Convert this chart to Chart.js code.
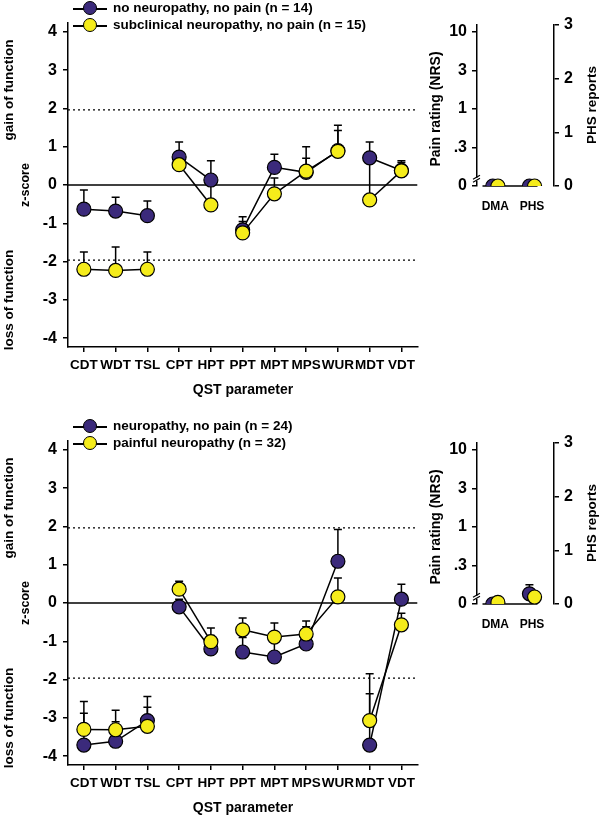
<!DOCTYPE html>
<html>
<head>
<meta charset="utf-8">
<script src="https://cdn.jsdelivr.net/npm/chart.js@4"></script>
<style>
body{margin:0;background:#fff;width:600px;height:816px;position:relative;overflow:hidden;font-family:"Liberation Sans",Arial,sans-serif;color:#000}
canvas{position:absolute}
.t{position:absolute;white-space:nowrap;font-weight:bold;line-height:1}
.rot{transform:translate(-50%,-50%) rotate(-90deg)}
.ctr{transform:translate(-50%,-50%)}
.leg{position:absolute;left:73px;height:16px;font-size:13.5px;font-weight:bold;white-space:nowrap}
.leg .ln{position:absolute;left:0;top:7px;width:34px;height:1.5px;background:#000}
.leg .dot{position:absolute;left:10px;top:0;width:12px;height:12px;border:1.3px solid #000;border-radius:50%}
.leg .tx{position:absolute;left:40px;top:-1px;line-height:16px}
</style>
</head>
<body>
<canvas id="zTop" width="420" height="398" style="left:0;top:0"></canvas>
<canvas id="sTop" width="180" height="215" style="left:420px;top:0"></canvas>
<canvas id="zBot" width="420" height="398" style="left:0;top:418px"></canvas>
<canvas id="sBot" width="180" height="215" style="left:420px;top:418px"></canvas>

<div class="leg" style="top:1px"><span class="ln"></span><span class="dot" style="background:#3b2a7b"></span><span class="tx">no neuropathy, no pain (n = 14)</span></div>
<div class="leg" style="top:18px"><span class="ln"></span><span class="dot" style="background:#f5ec1b"></span><span class="tx">subclinical neuropathy, no pain (n = 15)</span></div>
<div class="leg" style="top:419px"><span class="ln"></span><span class="dot" style="background:#3b2a7b"></span><span class="tx">neuropathy, no pain (n = 24)</span></div>
<div class="leg" style="top:436px"><span class="ln"></span><span class="dot" style="background:#f5ec1b"></span><span class="tx">painful neuropathy (n = 32)</span></div>

<div class="t rot" style="left:9px;top:90px;font-size:13.5px">gain of function</div>
<div class="t rot" style="left:25px;top:185px;font-size:12.5px">z-score</div>
<div class="t rot" style="left:9px;top:300px;font-size:13.5px">loss of function</div>
<div class="t ctr" style="left:243px;top:389px;font-size:14px">QST parameter</div>
<div class="t rot" style="left:435px;top:109px;font-size:14px">Pain rating (NRS)</div>
<div class="t rot" style="left:592px;top:105px;font-size:13.5px">PHS reports</div>

<div class="t rot" style="left:9px;top:508px;font-size:13.5px">gain of function</div>
<div class="t rot" style="left:25px;top:603px;font-size:12.5px">z-score</div>
<div class="t rot" style="left:9px;top:718px;font-size:13.5px">loss of function</div>
<div class="t ctr" style="left:243px;top:807px;font-size:14px">QST parameter</div>
<div class="t rot" style="left:435px;top:527px;font-size:14px">Pain rating (NRS)</div>
<div class="t rot" style="left:592px;top:523px;font-size:13.5px">PHS reports</div>

<script>
// categories
const QST = ['CDT','WDT','TSL','CPT','HPT','PPT','MPT','MPS','WUR','MDT','VDT'];
const SIDE_CATS = ['DMA','PHS'];
const Z_TICKS = [-4,-3,-2,-1,0,1,2,3,4];
const PAIN_TICKS = ['0','.3','1','3','10'];
const PHS_TICKS = [0,1,2,3];
// segments not joined (index of left point)
const GAPS = [2,4,8];

// upper panel: no neuropathy (purple) vs subclinical (yellow)
const topPurple    = [-0.63,-0.68,-0.80, 0.73, 0.13,-1.17, 0.46, 0.33, 0.90, 0.71, 0.38];
const topPurpleErr = [ 0.50, 0.36, 0.38, 0.39, 0.50, 0.34, 0.34, 0.37, 0.52, 0.41, 0.25];
const topYellow    = [-2.20,-2.23,-2.20, 0.53,-0.52,-1.25,-0.23, 0.36, 0.88,-0.39, 0.37];
const topYellowErr = [ 0.45, 0.61, 0.45, 0.20, 0.60, 0.30, 0.41, 0.64, 0.68, 1.00, 0.22];

// lower panel: neuropathy no pain (purple) vs painful (yellow)
const botPurple    = [-3.71,-3.61,-3.07,-0.10,-1.20,-1.28,-1.41,-1.07, 1.09,-3.71, 0.10];
const botPurpleErr = [ 0.83, 0.51, 0.63, 0.20, 0.35, 0.38, 0.45, 0.45, 0.83, 1.86, 0.39];
const botYellow    = [-3.30,-3.31,-3.22, 0.36,-1.01,-0.70,-0.89,-0.81, 0.16,-3.07,-0.57];
const botYellowErr = [ 0.73, 0.51, 0.50, 0.21, 0.36, 0.31, 0.37, 0.34, 0.49, 0.70, 0.30];

// side panels (DMA pain rating, PHS reports)
const sideTopPurple = [0, 0],    sideTopPurpleErr = [0, 0];
const sideTopYellow = [0, 0],    sideTopYellowErr = [0, 0];
const sideBotPurple = [0, 0.19], sideBotPurpleErr = [0, 0.17];
const sideBotYellow = [0.03, 0.13], sideBotYellowErr = [0, 0.10];

const PURPLE = '#3b2a7b', YELLOW = '#f5ec1b';
const DODGE = 0.07;

Chart.defaults.font.family = '"Liberation Sans", Arial, sans-serif';
Chart.defaults.font.weight = 'bold';
Chart.defaults.color = '#000';

const errorBars = {
  id: 'errorBars',
  beforeDatasetsDraw(chart){
    const ctx = chart.ctx;
    ctx.save();
    ctx.strokeStyle = '#000';
    ctx.lineWidth = 1.5;
    chart.data.datasets.forEach((ds, i) => {
      if(!ds.errors) return;
      const meta = chart.getDatasetMeta(i);
      const ys = chart.scales[meta.yAxisID];
      meta.data.forEach((pt, j) => {
        const e = ds.errors[j];
        if(!e) return;
        const raw = ds.data[j];
        const v = typeof raw === 'object' ? raw.y : raw;
        const top = ys.getPixelForValue(v + e);
        ctx.beginPath();
        ctx.moveTo(pt.x, pt.y); ctx.lineTo(pt.x, top);
        ctx.moveTo(pt.x - 4, top); ctx.lineTo(pt.x + 4, top);
        ctx.stroke();
      });
    });
    ctx.restore();
  }
};

const refLines = {
  id: 'refLines',
  beforeDatasetsDraw(chart){
    const {ctx, chartArea: a} = chart;
    const y = chart.scales.y;
    ctx.save();
    ctx.strokeStyle = '#000';
    ctx.lineWidth = 1.5;
    ctx.beginPath();
    ctx.moveTo(a.left, y.getPixelForValue(0)); ctx.lineTo(a.right, y.getPixelForValue(0));
    ctx.stroke();
    ctx.lineWidth = 1.2;
    ctx.setLineDash([2, 3]);
    [1.96, -1.96].forEach(v => {
      ctx.beginPath();
      ctx.moveTo(a.left, y.getPixelForValue(v)); ctx.lineTo(a.right, y.getPixelForValue(v));
      ctx.stroke();
    });
    ctx.restore();
  }
};

const sideAxis = {
  id: 'sideAxis',
  beforeDatasetsDraw(chart){
    const {ctx, chartArea: a, scales} = chart;
    const y0 = scales.y.getPixelForValue(0);
    ctx.save();
    ctx.strokeStyle = '#000';
    ctx.lineWidth = 1.5;
    ctx.beginPath();
    ctx.moveTo(scales.x.getPixelForValue(-0.35), y0);
    ctx.lineTo(scales.x.getPixelForValue(1.15), y0);
    ctx.stroke();
    // axis break
    const yb = scales.y.getPixelForValue(0.16);
    ctx.fillStyle = '#fff';
    ctx.fillRect(a.left - 2, yb - 2, 4, 3);
    ctx.lineWidth = 1.2;
    ctx.beginPath();
    ctx.moveTo(a.left - 4, yb - 0.5); ctx.lineTo(a.left + 3, yb - 4.5);
    ctx.moveTo(a.left - 4, yb + 2.5); ctx.lineTo(a.left + 3, yb - 1.5);
    ctx.stroke();
    ctx.restore();
  }
};

const axisGrid = {display:true, drawOnChartArea:false, drawTicks:true, tickLength:5, color:'#000', lineWidth:1.5};
const axisBorder = {display:true, color:'#000', width:1.5};

function lineSet(data, errs, color, order){
  return {
    data, errors: errs, order,
    borderColor:'#000', borderWidth:1.5, tension:0, fill:false,
    pointRadius:7, pointBorderWidth:1.2, pointBorderColor:'#000', pointBackgroundColor:color,
    segment:{ borderColor: c => GAPS.includes(c.p0DataIndex) ? 'rgba(0,0,0,0)' : '#000' }
  };
}

function zChart(id, purple, purpleErr, yellow, yellowErr){
  return new Chart(document.getElementById(id), {
    type:'line',
    data:{ labels: QST, datasets:[ lineSet(yellow, yellowErr, YELLOW, 0), lineSet(purple, purpleErr, PURPLE, 1) ] },
    options:{
      responsive:false, animation:false, events:[],
      layout:{ padding:{top:23, right:2, left:0, bottom:0}, autoPadding:false },
      plugins:{ legend:{display:false}, tooltip:{enabled:false} },
      scales:{
        x:{ type:'category', offset:true, grid:axisGrid, border:axisBorder,
            ticks:{font:{size:13.5, weight:'bold'}, color:'#000', padding:5, maxRotation:0, autoSkip:false},
            afterFit: s => { s.height = 51; } },
        y:{ min:-4.23, max:4.23, grid:axisGrid, border:axisBorder,
            afterBuildTicks: s => { s.ticks = Z_TICKS.map(v => ({value:v})); },
            ticks:{font:{size:16, weight:'bold'}, color:'#000', padding:6},
            afterFit: s => { s.width = 68; } }
      }
    },
    plugins:[refLines, errorBars]
  });
}

function sideSet(vals, errs, color, dodge, order){
  return {
    data: vals.map((v, i) => ({x: i + dodge, y: v})),
    errors: errs, order, yAxisID:'y2', showLine:false,
    pointRadius:7, pointBorderWidth:1.2, pointBorderColor:'#000', pointBackgroundColor:color
  };
}

function sideChart(id, purple, purpleErr, yellow, yellowErr){
  return new Chart(document.getElementById(id), {
    type:'scatter',
    data:{ datasets:[ sideSet(yellow, yellowErr, YELLOW, DODGE, 0), sideSet(purple, purpleErr, PURPLE, -DODGE, 1) ] },
    options:{
      responsive:false, animation:false, events:[],
      layout:{ padding:{top:25, right:0, left:0, bottom:0}, autoPadding:false },
      plugins:{ legend:{display:false}, tooltip:{enabled:false} },
      scales:{
        x:{ type:'linear', min:-0.5, max:1.6, grid:{display:false}, border:{display:false},
            afterBuildTicks: s => { s.ticks = SIDE_CATS.map((c, i) => ({value:i})); },
            ticks:{callback: v => SIDE_CATS[v], font:{size:12, weight:'bold'}, color:'#000', padding:5},
            afterFit: s => { s.height = 29; } },
        y:{ position:'left', min:0, max:4.18, grid:axisGrid, border:axisBorder,
            afterBuildTicks: s => { s.ticks = PAIN_TICKS.map((t, i) => ({value:i})); },
            ticks:{callback: v => PAIN_TICKS[v], font:{size:16, weight:'bold'}, color:'#000', padding:5},
            afterFit: s => { s.width = 57; } },
        y2:{ position:'right', min:0, max:3, grid:axisGrid, border:axisBorder,
            afterBuildTicks: s => { s.ticks = PHS_TICKS.map(v => ({value:v})); },
            ticks:{font:{size:16, weight:'bold'}, color:'#000', padding:5},
            afterFit: s => { s.width = 46; } }
      }
    },
    plugins:[sideAxis, errorBars]
  });
}

zChart('zTop', topPurple, topPurpleErr, topYellow, topYellowErr);
zChart('zBot', botPurple, botPurpleErr, botYellow, botYellowErr);
sideChart('sTop', sideTopPurple, sideTopPurpleErr, sideTopYellow, sideTopYellowErr);
sideChart('sBot', sideBotPurple, sideBotPurpleErr, sideBotYellow, sideBotYellowErr);
</script>
</body>
</html>
